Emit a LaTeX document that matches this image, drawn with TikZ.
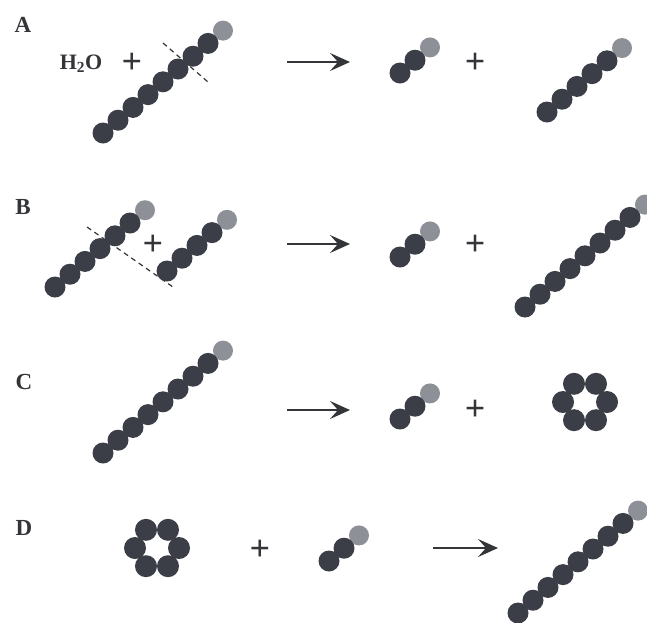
\documentclass[tikz,border=0pt]{standalone}
\usepackage{fontspec}
\setmainfont{Liberation Serif}
\usetikzlibrary{arrows.meta}
\definecolor{beaddark}{HTML}{3B3E47}
\definecolor{beadgray}{HTML}{8D9096}
\definecolor{inkc}{HTML}{343538}
\tikzset{
  darkbead/.style={circle, fill=beaddark, inner sep=0pt, minimum size=21pt},
  graybead/.style={circle, fill=beadgray, inner sep=0pt, minimum size=20pt},
  ringbead/.style={circle, fill=beaddark, inner sep=0pt, minimum size=22pt},
  panellabel/.style={font=\fontsize{23}{23}\selectfont\bfseries, text=inkc},
  plussign/.style={font=\fontsize{36}{36}\selectfont\bfseries, text=inkc, inner sep=0pt},
  reactarrow/.style={-{Stealth[length=20pt,width=18pt,inset=8pt]}, line width=1.6pt, draw=inkc},
  cutline/.style={dash pattern=on 5pt off 4pt, line width=1.2pt, draw=inkc},
}
\newcommand{\beadchain}[4]{%
  \node[graybead] (#1-end) at ({#2+15*#4}, {#3-12.8*#4}) {};
  \foreach \k in {1,...,#4} {\node[darkbead] (#1-\k) at ({#2+15*(\k-1)}, {#3-12.8*(\k-1)}) {};}
}
\newcommand{\beadring}[3]{%
  \foreach \a in {0,60,...,300} {\node[ringbead] (#1-\a) at ({#2+22*cos(\a)}, {#3+21*sin(\a)}) {};}
}
\begin{document}
\begin{tikzpicture}[x=1pt,y=-1pt]
\useasboundingbox (0,0) rectangle (647,622);
\clip (0,0) rectangle (647,622);
\fill[white] (0,0) rectangle (647,622);

% ---- row A ----
\node[panellabel] (labA) at (23,25) {A};
\node[font=\fontsize{22}{22}\selectfont\bfseries, text=inkc] (water) at (81,64) {H\textsubscript{2}O};
\node[plussign] (plusA1) at (132,63) {+};
\coordinate (cutA-s) at (163,43);
\coordinate (cutA-e) at (208,82);
\draw[cutline] (cutA-s) -- (cutA-e);
\beadchain{chA}{103}{133}{8}
\coordinate (arrA-s) at (287,62);
\coordinate (arrA-e) at (350,62);
\draw[reactarrow] (arrA-s) -- (arrA-e);
\beadchain{prA1}{400}{73}{2}
\node[plussign] (plusA2) at (475,63) {+};
\beadchain{prA2}{547}{112}{5}

% ---- row B ----
\node[panellabel] (labB) at (23,207) {B};
\coordinate (cutB-s) at (87,227);
\coordinate (cutB-e) at (173,287);
\draw[cutline] (cutB-s) -- (cutB-e);
\beadchain{chB1}{55}{287}{6}
\node[plussign] (plusB1) at (153,245) {+};
\beadchain{chB2}{167}{271}{4}
\coordinate (arrB-s) at (287,244);
\coordinate (arrB-e) at (350,244);
\draw[reactarrow] (arrB-s) -- (arrB-e);
\beadchain{prB1}{400}{257}{2}
\node[plussign] (plusB2) at (475,245) {+};
\beadchain{prB2}{525}{307}{8}

% ---- row C ----
\node[panellabel] (labC) at (24,382) {C};
\beadchain{chC}{103}{453}{8}
\coordinate (arrC-s) at (287,410);
\coordinate (arrC-e) at (350,410);
\draw[reactarrow] (arrC-s) -- (arrC-e);
\beadchain{prC1}{400}{419}{2}
\node[plussign] (plusC) at (475,410) {+};
\beadring{ringC}{585}{402}

% ---- row D ----
\node[panellabel] (labD) at (24,528) {D};
\beadring{ringD}{157}{548}
\node[plussign] (plusD) at (260,550) {+};
\beadchain{chD}{329}{561}{2}
\coordinate (arrD-s) at (433,548);
\coordinate (arrD-e) at (498,548);
\draw[reactarrow] (arrD-s) -- (arrD-e);
\beadchain{prD}{518}{613}{8}
\end{tikzpicture}
\end{document}
